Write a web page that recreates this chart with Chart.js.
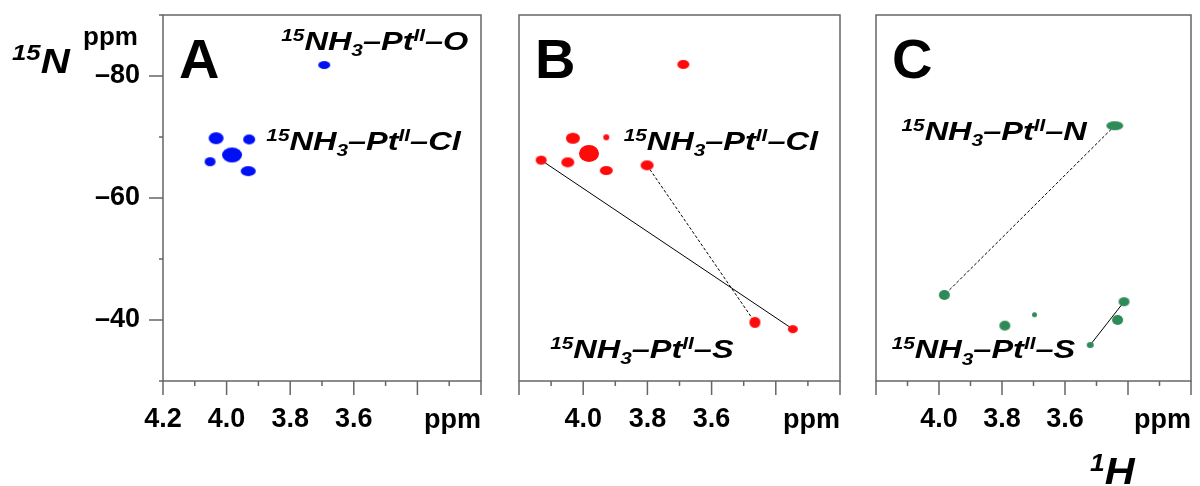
<!DOCTYPE html>
<html>
<head>
<meta charset="utf-8">
<script src="https://cdn.jsdelivr.net/npm/chart.js@4.4.1/dist/chart.umd.min.js"></script>
<style>
  body { margin: 0; background: #fff; }
  #wrap { position: relative; width: 1200px; height: 486px; }
  canvas { position: absolute; top: 0; }
</style>
</head>
<body>
<div id="wrap">
  <canvas id="panelA" width="490" height="486" style="left:0"></canvas>
  <canvas id="panelB" width="340" height="486" style="left:510px"></canvas>
  <canvas id="panelC" width="334" height="486" style="left:866px"></canvas>
</div>
<script>
// cross peaks: 1H shift (x) and 15N shift (y), ppm
const hA = [3.693, 4.033, 3.929, 3.983, 4.052, 3.932];
const nA = [-81.8, -69.8, -69.6, -67.05, -65.95, -64.4];
const hB = [3.688, 4.032, 3.928, 3.982, 4.131, 4.048, 3.928, 3.801, 3.465, 3.347];
const nB = [-81.9, -69.8, -69.95, -67.3, -66.2, -65.85, -64.5, -65.35, -39.62, -38.5];
const hC = [3.442, 3.983, 3.791, 3.697, 3.4125, 3.433, 3.52];
const nC = [-71.85, -44.1, -39.07, -40.87, -43.0, -40.0, -35.9];

// peaks joined by a line (indexes into the arrays above)
const solidB = [4, 9];
const dashB = [7, 8];
const solidC = [6, 4];
const dashC = [0, 1];

// tick labels
const hTicksA = ['4.2', '4.0', '3.8', '3.6'];
const hTicksBC = ['4.0', '3.8', '3.6'];
const nTicks = [-80, -60, -40];

// assignments, ^{} = superscript, _{} = subscript
const tagsA = ['^{15}NH_{3}–Pt^{II}–O', '^{15}NH_{3}–Pt^{II}–Cl'];
const tagsB = ['^{15}NH_{3}–Pt^{II}–Cl', '^{15}NH_{3}–Pt^{II}–S'];
const tagsC = ['^{15}NH_{3}–Pt^{II}–N', '^{15}NH_{3}–Pt^{II}–S'];

const FONT = "'Liberation Sans', Arial, Helvetica, sans-serif";
Chart.defaults.font.family = FONT;

function parseTag(s) {
    const parts = [];
    const re = /([\^_])\{([^}]*)\}|([^\^_]+)/g;
    let m;
    while ((m = re.exec(s))) {
        if (m[1]) parts.push([m[2], m[1] === '^' ? 'sup' : 'sub']);
        else parts.push([m[3], 'n']);
    }
    return parts;
}

// bold italic text with sub/superscripts, stretched a bit wide
function drawTag(ctx, s, x, y, size, sx) {
    ctx.save();
    ctx.translate(x, y);
    ctx.scale(sx, 1);
    ctx.fillStyle = '#000';
    ctx.textBaseline = 'alphabetic';
    ctx.textAlign = 'left';
    let cx = 0;
    for (const [txt, kind] of parseTag(s)) {
        const fs = kind === 'n' ? size : size * 0.64;
        const dy = kind === 'sup' ? -size * 0.36 : kind === 'sub' ? size * 0.24 : 0;
        ctx.font = `italic bold ${fs}px ${FONT}`;
        ctx.fillText(txt, cx, dy);
        cx += ctx.measureText(txt).width;
    }
    ctx.restore();
}

// elliptical contour blob used as point style
function blob(color, w, h) {
    const c = document.createElement('canvas');
    c.width = Math.ceil(w) + 2;
    c.height = Math.ceil(h) + 2;
    const g = c.getContext('2d');
    g.fillStyle = color;
    g.beginPath();
    g.ellipse(c.width / 2, c.height / 2, w / 2, h / 2, 0, 0, Math.PI * 2);
    g.fill();
    return c;
}

// fixed axis sizes, no extra room for overhanging labels
function fixSize(s, w, h) {
    if (w !== null) s.width = w;
    if (h !== null) s.height = h;
    s.paddingTop = s.paddingBottom = s.paddingLeft = s.paddingRight = 0;
}

const deco = {
    id: 'deco',
    afterDraw(chart, args, o) {
        const { ctx, chartArea: a, scales: { x, y } } = chart;
        ctx.save();
        ctx.strokeStyle = '#666';
        ctx.lineWidth = 1.5;
        ctx.strokeRect(a.left, a.top, a.width, a.height);

        // 1H ticks every 0.1 ppm, long ones every 0.2
        ctx.beginPath();
        for (let i = 0; i <= 10; i++) {
            const px = x.getPixelForValue(3.2 + i * 0.1);
            ctx.moveTo(px, a.bottom);
            ctx.lineTo(px, a.bottom + (i % 2 === 0 ? 14 : 5));
        }
        if (o.nAxis) {
            for (let v = -90; v <= -30; v += 10) {
                const py = y.getPixelForValue(v);
                ctx.moveTo(a.left, py);
                ctx.lineTo(a.left - (nTicks.includes(v) ? 14 : 4), py);
            }
        }
        ctx.stroke();

        ctx.fillStyle = '#000';
        ctx.font = `bold 27px ${FONT}`;
        ctx.textAlign = 'right';
        ctx.textBaseline = 'alphabetic';
        ctx.fillText('ppm', a.right, a.bottom + 47);

        ctx.textAlign = 'left';
        ctx.font = `bold 56px ${FONT}`;
        ctx.fillText(o.letter, a.left + 16, a.top + 63);

        o.tags.forEach((t, i) => {
            const [h, n] = o.at[i];
            drawTag(ctx, t, x.getPixelForValue(h), y.getPixelForValue(n), 26, 1.25);
        });

        if (o.nAxis) {
            drawTag(ctx, '^{15}N', 12, 73, 35, 1.15);
            ctx.font = `bold 26px ${FONT}`;
            ctx.fillStyle = '#000';
            ctx.fillText('ppm', 83, 45);
        }
        if (o.hTitle) {
            drawTag(ctx, '^{1}H', a.left + 214, 484, 36, 1.15);
        }
        ctx.restore();
    }
};

function makePanel(id, p) {
    const pt = i => ({ x: p.h[i], y: p.n[i] });
    const link = (pair, dash) => ({
        data: pair.map(pt),
        showLine: true,
        borderColor: '#000',
        borderWidth: 1,
        borderDash: dash,
        pointRadius: 0,
        order: 2
    });
    const datasets = [{
        data: p.h.map((v, i) => pt(i)),
        pointStyle: p.sizes.map(([w, h]) => blob(p.color, w, h)),
        pointRadius: 8,
        order: 1
    }];
    (p.solid || []).forEach(pair => datasets.push(link(pair, [])));
    (p.dash || []).forEach(pair => datasets.push(link(pair, [3, 2])));

    return new Chart(document.getElementById(id), {
        type: 'scatter',
        data: { datasets },
        options: {
            responsive: false,
            animation: false,
            events: [],
            layout: { padding: { top: 15, left: p.padLeft, right: p.padRight, bottom: 0 } },
            scales: {
                x: {
                    type: 'linear', min: 3.2, max: 4.2, reverse: true,
                    grid: { display: false, drawTicks: false },
                    border: { display: false },
                    ticks: {
                        stepSize: 0.2, autoSkip: false, maxRotation: 0, padding: 22,
                        color: '#000', font: { size: 27, weight: 'bold' },
                        callback: v => p.hTicks.includes(v.toFixed(1)) ? v.toFixed(1) : ''
                    },
                    afterFit: s => fixSize(s, null, 105)
                },
                y: {
                    type: 'linear', min: -90, max: -30, reverse: true,
                    display: p.nAxis,
                    grid: { display: false, drawTicks: false },
                    border: { display: false },
                    ticks: {
                        stepSize: 10, autoSkip: false, padding: 23,
                        color: '#000', font: { size: 27, weight: 'bold' },
                        callback: v => nTicks.includes(Math.round(v)) ? '–' + Math.abs(Math.round(v)) : ''
                    },
                    afterFit: s => fixSize(s, p.nAxis ? 163 : 0, null)
                }
            },
            plugins: {
                legend: { display: false },
                tooltip: { enabled: false },
                deco: {
                    letter: p.letter, tags: p.tags, at: p.at,
                    nAxis: p.nAxis, hTitle: p.hTitle
                }
            }
        },
        plugins: [deco]
    });
}

makePanel('panelA', {
    h: hA, n: nA, color: '#0010f5', letter: 'A', nAxis: true,
    hTicks: hTicksA, tags: tagsA, at: [[3.828, -84.26], [3.875, -67.87]],
    sizes: [[12, 8], [15, 12], [12, 10], [20, 15], [11, 9], [15, 10]],
    padLeft: 0, padRight: 8
});
makePanel('panelB', {
    h: hB, n: nB, color: '#ff0a0a', letter: 'B', nAxis: false,
    hTicks: hTicksBC, tags: tagsB, at: [[3.874, -67.87], [4.103, -33.77]],
    sizes: [[12, 9], [14, 11], [6, 6], [20, 17], [11, 9], [13, 10], [13, 9], [13, 10], [11, 11], [10, 8]],
    solid: [solidB], dash: [dashB],
    padLeft: 9, padRight: 10
});
makePanel('panelC', {
    h: hC, n: nC, color: '#2e8b57', letter: 'C', nAxis: false, hTitle: true,
    hTicks: hTicksBC, tags: tagsC, at: [[4.119, -69.5], [4.15, -33.72]],
    sizes: [[17, 9], [11, 10], [11, 10], [5, 5], [11, 9], [11, 10], [7, 6]],
    solid: [solidC], dash: [dashC],
    padLeft: 10, padRight: 4
});
</script>
</body>
</html>
